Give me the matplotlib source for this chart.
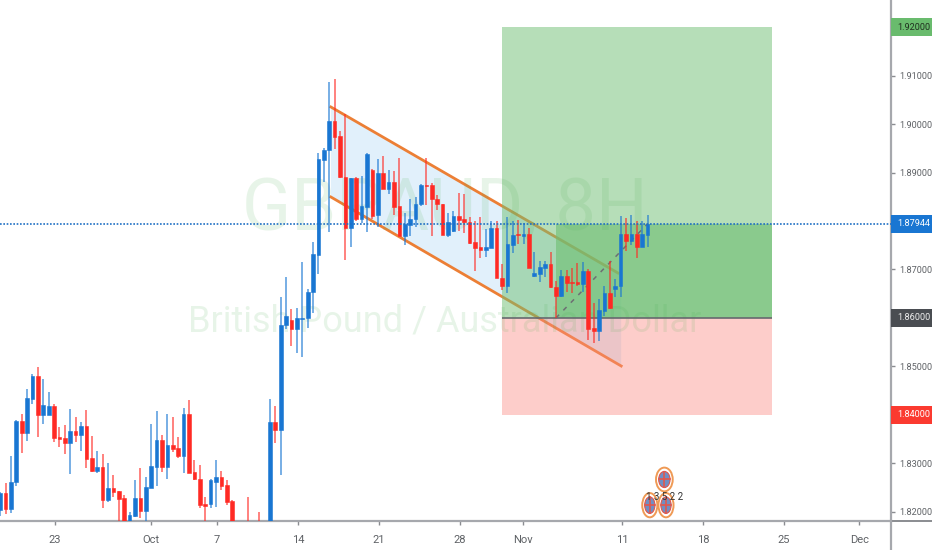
import numpy as np
import matplotlib
matplotlib.use('Agg')
import matplotlib.pyplot as plt
from matplotlib.patches import Rectangle, Polygon, Ellipse
from matplotlib.transforms import blended_transform_factory

plt.rcParams['font.family'] = ['Roboto', 'DejaVu Sans']

# 8H candles
opens = [1.8204, 1.8239, 1.8206, 1.8261, 1.8387, 1.8362, 1.8432, 1.8480, 1.8400, 1.8401,
         1.8418, 1.8355, 1.8353, 1.8343, 1.8366, 1.8359, 1.8377, 1.8311, 1.8285, 1.8293,
         1.8225, 1.8249, 1.8243, 1.8229, 1.8182, 1.8192, 1.8229, 1.8202, 1.8250, 1.8293,
         1.8348, 1.8293, 1.8338, 1.8331, 1.8316, 1.8403, 1.8282, 1.8269, 1.8216, 1.8216,
         1.8262, 1.8272, 1.8256, 1.8223, 1.8165, 1.8160, 1.8175, 1.8150, 1.8175, 1.8140,
         1.8165, 1.8385, 1.8369, 1.8585, 1.8595, 1.8578, 1.8597, 1.8601, 1.8653, 1.8730,
         1.8926, 1.8946, 1.9007, 1.8976, 1.8891, 1.8785, 1.8888, 1.8804, 1.8829, 1.8905,
         1.8812, 1.8898, 1.8867, 1.8881, 1.8831, 1.8770, 1.8791, 1.8805, 1.8835, 1.8875,
         1.8874, 1.8846, 1.8836, 1.8771, 1.8780, 1.8811, 1.8804, 1.8797, 1.8756, 1.8746,
         1.8741, 1.8745, 1.8786, 1.8682, 1.8666, 1.8750, 1.8773, 1.8770, 1.8773, 1.8686,
         1.8691, 1.8704, 1.8711, 1.8663, 1.8646, 1.8687, 1.8674, 1.8674, 1.8670, 1.8697,
         1.8579, 1.8573, 1.8615, 1.8652, 1.8659, 1.8665, 1.8773, 1.8759, 1.8773, 1.8747,
         1.8772]
highs = [1.8242, 1.8260, 1.8315, 1.8390, 1.8403, 1.8453, 1.8484, 1.8498, 1.8474, 1.8447,
         1.8423, 1.8375, 1.8379, 1.8412, 1.8395, 1.8386, 1.8410, 1.8357, 1.8326, 1.8320,
         1.8301, 1.8276, 1.8244, 1.8236, 1.8199, 1.8265, 1.8291, 1.8272, 1.8381, 1.8408,
         1.8359, 1.8403, 1.8395, 1.8355, 1.8414, 1.8430, 1.8307, 1.8296, 1.8231, 1.8267,
         1.8307, 1.8285, 1.8266, 1.8225, 1.8170, 1.8170, 1.8231, 1.8170, 1.8199, 1.8170,
         1.8432, 1.8419, 1.8644, 1.8684, 1.8619, 1.8621, 1.8716, 1.8659, 1.8757, 1.8940,
         1.8951, 1.9086, 1.9093, 1.8986, 1.9020, 1.8889, 1.8891, 1.8892, 1.8940, 1.8907,
         1.8927, 1.8934, 1.8905, 1.8903, 1.8929, 1.8817, 1.8845, 1.8850, 1.8876, 1.8929,
         1.8878, 1.8854, 1.8836, 1.8816, 1.8820, 1.8857, 1.8855, 1.8809, 1.8800, 1.8809,
         1.8783, 1.8800, 1.8799, 1.8711, 1.8809, 1.8800, 1.8802, 1.8795, 1.8786, 1.8737,
         1.8718, 1.8718, 1.8736, 1.8676, 1.8699, 1.8699, 1.8703, 1.8714, 1.8715, 1.8700,
         1.8630, 1.8639, 1.8665, 1.8718, 1.8680, 1.8810, 1.8806, 1.8812, 1.8801, 1.8801,
         1.8812]
lows = [1.8192, 1.8195, 1.8197, 1.8253, 1.8322, 1.8347, 1.8423, 1.8355, 1.8381, 1.8400,
        1.8344, 1.8333, 1.8320, 1.8278, 1.8344, 1.8326, 1.8291, 1.8283, 1.8280, 1.8208,
        1.8221, 1.8231, 1.8170, 1.8160, 1.8175, 1.8190, 1.8188, 1.8180, 1.8249, 1.8253,
        1.8283, 1.8269, 1.8324, 1.8311, 1.8281, 1.8281, 1.8266, 1.8208, 1.8175, 1.8208,
        1.8210, 1.8245, 1.8214, 1.8160, 1.8140, 1.8140, 1.8150, 1.8140, 1.8150, 1.8130,
        1.8160, 1.8343, 1.8277, 1.8577, 1.8543, 1.8528, 1.8520, 1.8580, 1.8610, 1.8691,
        1.8881, 1.8778, 1.8948, 1.8889, 1.8720, 1.8747, 1.8800, 1.8796, 1.8778, 1.8804,
        1.8788, 1.8866, 1.8856, 1.8812, 1.8770, 1.8751, 1.8770, 1.8788, 1.8831, 1.8832,
        1.8770, 1.8823, 1.8772, 1.8766, 1.8778, 1.8780, 1.8776, 1.8752, 1.8697, 1.8723,
        1.8725, 1.8744, 1.8682, 1.8658, 1.8651, 1.8735, 1.8752, 1.8752, 1.8703, 1.8685,
        1.8675, 1.8685, 1.8661, 1.8599, 1.8644, 1.8654, 1.8652, 1.8666, 1.8654, 1.8555,
        1.8548, 1.8553, 1.8604, 1.8618, 1.8644, 1.8644, 1.8739, 1.8751, 1.8723, 1.8746,
        1.8747]
closes = [1.8239, 1.8206, 1.8262, 1.8388, 1.8362, 1.8434, 1.8480, 1.8400, 1.8421, 1.8418,
          1.8353, 1.8351, 1.8343, 1.8366, 1.8359, 1.8377, 1.8309, 1.8285, 1.8293, 1.8225,
          1.8249, 1.8241, 1.8227, 1.8173, 1.8194, 1.8229, 1.8201, 1.8251, 1.8295, 1.8348,
          1.8293, 1.8338, 1.8329, 1.8316, 1.8403, 1.8281, 1.8267, 1.8215, 1.8212, 1.8265,
          1.8272, 1.8254, 1.8221, 1.8170, 1.8150, 1.8150, 1.8160, 1.8165, 1.8165, 1.8160,
          1.8385, 1.8369, 1.8586, 1.8604, 1.8578, 1.8599, 1.8601, 1.8654, 1.8731, 1.8928,
          1.8947, 1.9007, 1.8974, 1.8891, 1.8785, 1.8888, 1.8804, 1.8830, 1.8938, 1.8811,
          1.8898, 1.8867, 1.8881, 1.8829, 1.8770, 1.8794, 1.8805, 1.8836, 1.8874, 1.8873,
          1.8845, 1.8836, 1.8772, 1.8797, 1.8810, 1.8803, 1.8797, 1.8754, 1.8745, 1.8741,
          1.8746, 1.8786, 1.8682, 1.8667, 1.8752, 1.8771, 1.8771, 1.8773, 1.8704, 1.8692,
          1.8705, 1.8711, 1.8663, 1.8646, 1.8687, 1.8673, 1.8672, 1.8670, 1.8697, 1.8578,
          1.8573, 1.8617, 1.8652, 1.8620, 1.8666, 1.8773, 1.8759, 1.8773, 1.8747, 1.8773,
          1.87944]

last_price = 1.87944
entry = 1.86
target = 1.92
stop = 1.84

# position tool and channel, in bar numbers and prices
pos_start, pos_end = 93.0, 143.1
fill_start = 103.0
chan_x = [61.3, 114.5, 115.1]
chan_top = [1.90351, 1.86928, 1.86893]
chan_bot = [1.88495, 1.85010]
trend_x = [103.0, 120.0]
trend_y = [1.8600, 1.87944]

# 1.88 sits behind the last price box, so it gets no label of its own
y_ticks = [1.82, 1.83, 1.85, 1.87, 1.89, 1.90, 1.91]
x_tick_pos = [10.2, 27.9, 40.2, 55.2, 70.2, 85.2, 96.9, 115.3, 130.3, 145.3, 159.2]
x_tick_lab = ['23', 'Oct', '7', '14', '21', '28', 'Nov', '11', '18', '25', 'Dec']

BLUE = '#1976d2'
RED = '#ff2a24'
ORANGE = '#ec7f35'
AXIS = '#a6a8ad'

fig = plt.figure(figsize=(9.32, 5.5), dpi=100)
ax = fig.add_axes([0, 29 / 550, 891 / 932, 521 / 550])
ax.set_xlim(-0.02, 165.1)
ax.set_ylim(1.81814, 1.92557)

# channel
ax.add_patch(Polygon([(chan_x[0], chan_top[0]), (chan_x[1], chan_top[1]), (chan_x[2], chan_top[2]),
                      (chan_x[2], chan_bot[1]), (chan_x[0], chan_bot[0])],
                     fc='#e1f0fb', ec='none', zorder=1))
ax.plot(chan_x[:2], chan_top[:2], color=ORANGE, lw=2, zorder=2)
ax.plot([chan_x[0], chan_x[2]], chan_bot, color=ORANGE, lw=2, zorder=2)

# long position
ax.add_patch(Rectangle((pos_start, entry), pos_end - pos_start, target - entry,
                       fc='#6fbf73', alpha=0.5, ec='none', zorder=3))
ax.add_patch(Rectangle((pos_start, stop), pos_end - pos_start, entry - stop,
                       fc='#fb8a82', alpha=0.42, ec='none', zorder=3))
ax.add_patch(Rectangle((fill_start, entry), pos_end - fill_start, last_price - entry,
                       fc='#6fbf73', alpha=0.62, ec='none', zorder=3))
ax.plot([pos_start, pos_end], [entry, entry], color='#66696e', lw=1.2, zorder=4, solid_capstyle='butt')
ax.plot(trend_x, trend_y, color='#6d6f73', lw=1.1, ls=(0, (3, 4)), zorder=4)

# watermark
ax.text(82.5, 1.8822, 'GBPAUD, 8H', fontsize=52, color='#4caf50', alpha=0.13,
        ha='center', va='center', zorder=3.5)
ax.text(82.3, 1.8592, 'British Pound / Australian Dollar', fontsize=26, color='#4caf50', alpha=0.13,
        ha='center', va='center', zorder=3.5)

# candles
idx = np.arange(len(opens))
o = np.array(opens)
h = np.array(highs)
l = np.array(lows)
c = np.array(closes)
colors = np.where(c >= o, BLUE, RED)
ax.vlines(idx, l, h, colors=colors, lw=1.1, alpha=0.75, zorder=5)
ax.bar(idx, np.abs(c - o), bottom=np.minimum(o, c), width=0.68, color=colors,
       ec=colors, lw=0.4, zorder=6)

# last price line
ax.axhline(last_price, color='#1f6fc4', lw=1.2, ls=(0, (1, 1)), zorder=7)

# event markers
for mx, my, w, hh in [(123.1, 1.8267, 3.1, 0.0049), (120.4, 1.8214, 2.8, 0.0050), (123.4, 1.8214, 2.8, 0.0050)]:
    ax.add_patch(Ellipse((mx, my), w, hh, fc='white', ec='#ef9a55', lw=1.4, zorder=8))
    ax.add_patch(Ellipse((mx, my), w * 0.68, hh * 0.68, fc='#6f8fc4', ec='#e2574c', lw=0.8, zorder=9))
    ax.plot([mx - w * 0.32, mx + w * 0.32], [my, my], color='#e2574c', lw=1.2, zorder=9)
    ax.plot([mx, mx], [my - hh * 0.32, my + hh * 0.32], color='#e2574c', lw=1.2, zorder=9)
ax.text(123.1, 1.8231, '1 3 5 2 2', fontsize=7, color='#333333', ha='center', va='center', zorder=10)

# axes
for side in ['left', 'top']:
    ax.spines[side].set_visible(False)
for side in ['right', 'bottom']:
    ax.spines[side].set_color(AXIS)
    ax.spines[side].set_linewidth(1.6)
ax.plot([1, 1], [0, -29 / 521], color=AXIS, lw=1.6, transform=ax.transAxes, clip_on=False)
ax.plot([1, 932 / 891], [0, 0], color='#77797e', lw=1.2, transform=ax.transAxes, clip_on=False)
ax.yaxis.tick_right()
ax.set_yticks(y_ticks)
ax.set_yticklabels(['%.5f' % t for t in y_ticks])
ax.set_xticks(x_tick_pos)
ax.set_xticklabels(x_tick_lab)
ax.tick_params(axis='y', length=3, width=1, color='#8a8c90', labelcolor='#5f6266', labelsize=6.6, pad=3)
ax.tick_params(axis='x', length=3, width=1, color='#8a8c90', labelcolor='#5f6266', labelsize=8, pad=7)

# price labels on the scale
trans = blended_transform_factory(ax.transAxes, ax.transData)
boxes = [(target, '#69bb6d', '#20301f'), (last_price, BLUE, 'white'),
         (entry, '#4a4d52', '#eeeeee'), (stop, '#fb3a30', 'white')]
for price, bg, fg in boxes:
    ax.add_patch(Rectangle((1, price - 0.00186), 41 / 891, 0.00372, transform=trans, fc=bg, ec='none',
                           clip_on=False, zorder=11))
    ax.text(897 / 891, price, '%.5f' % price, transform=trans, fontsize=6.6, color=fg, va='center',
            ha='left', clip_on=False, zorder=12)

fig.savefig('out.png', dpi=100)
